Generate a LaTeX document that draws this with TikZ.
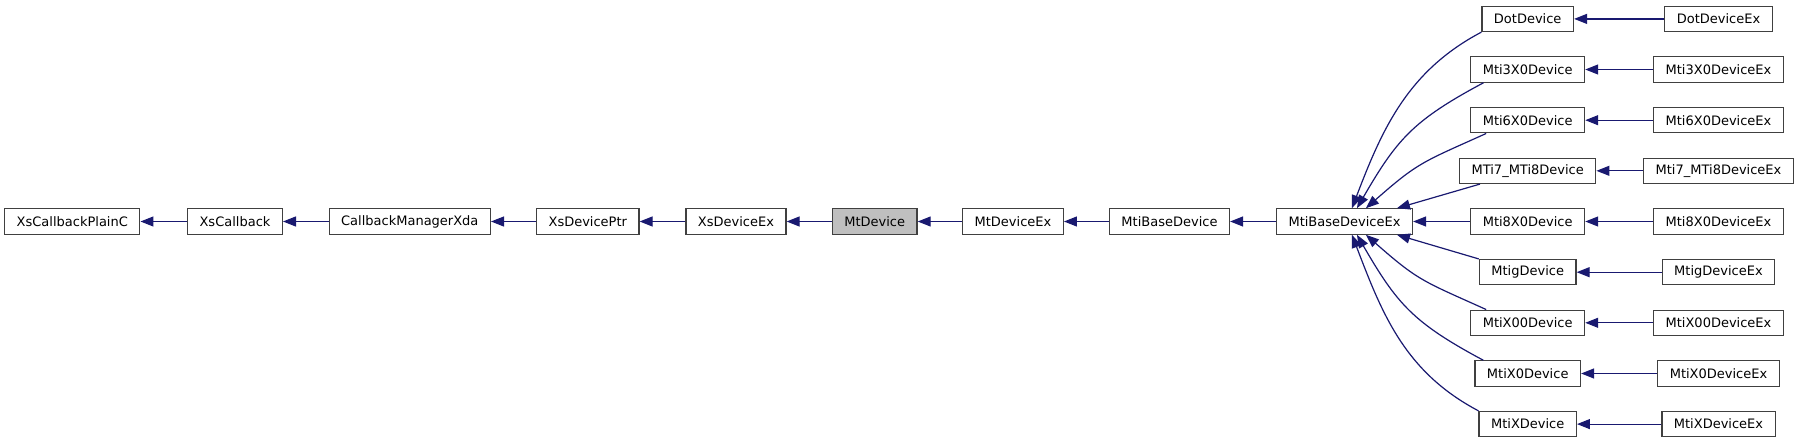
\documentclass[tikz,border=0pt]{standalone}
\usepackage{fontspec}
\setmainfont{DejaVu Sans}
\usetikzlibrary{arrows.meta,calc}
\definecolor{edgeblue}{HTML}{191970}
\definecolor{boxgray}{HTML}{404040}
\definecolor{fillgray}{HTML}{BFBFBF}
\begin{document}
\begin{tikzpicture}[x=0.75pt,y=-0.75pt,
  cls/.style={draw=boxgray, line width=0.9pt, fill=white, inner xsep=9pt, inner ysep=0pt,
    minimum height=19pt, font=\fontsize{9.75}{11}\selectfont, anchor=center},
  cur/.style={cls, fill=fillgray},
  inh/.style={draw=edgeblue, line width=0.9pt, -{Triangle[length=9.75pt,width=7.5pt]}}]
\useasboundingbox (0,0) rectangle (1799,443);
% main row
\node[cls] (xcpc) at (72.3,221.5) {XsCallbackPlainC};
\node[cls] (xcb)  at (235,221.5) {XsCallback};
\node[cls] (cmx)  at (409.8,221.5) {CallbackManagerXda};
\node[cls] (xdp)  at (587.8,221.5) {XsDevicePtr};
\node[cls] (xdx)  at (736,221.5) {XsDeviceEx};
\node[cur] (mtd)  at (874.7,221.5) {MtDevice};
\node[cls] (mtdx) at (1013,221.5) {MtDeviceEx};
\node[cls] (mbd)  at (1169.5,221.5) {MtiBaseDevice};
\node[cls] (mbx)  at (1344.5,221.5) {MtiBaseDeviceEx};
% column 2
\node[cls] (dot)  at (1527.7,18.9) {DotDevice};
\node[cls] (m3)   at (1527.7,69.5) {Mti3X0Device};
\node[cls] (m6)   at (1527.7,120.2) {Mti6X0Device};
\node[cls] (m7)   at (1527.7,170.8) {MTi7\_MTi8Device};
\node[cls] (m8)   at (1527.7,221.5) {Mti8X0Device};
\node[cls] (mg)   at (1527.7,272.2) {MtigDevice};
\node[cls] (mx00) at (1527.7,322.8) {MtiX00Device};
\node[cls] (mx0)  at (1527.7,373.5) {MtiX0Device};
\node[cls] (mx)   at (1527.7,424.1) {MtiXDevice};
% column 3
\node[cls] (dotx)  at (1718.5,18.9) {DotDeviceEx};
\node[cls] (m3x)   at (1718.5,69.5) {Mti3X0DeviceEx};
\node[cls] (m6x)   at (1718.5,120.2) {Mti6X0DeviceEx};
\node[cls] (m7x)   at (1718.5,170.8) {Mti7\_MTi8DeviceEx};
\node[cls] (m8x)   at (1718.5,221.5) {Mti8X0DeviceEx};
\node[cls] (mgx)   at (1718.5,272.2) {MtigDeviceEx};
\node[cls] (mx00x) at (1718.5,322.8) {MtiX00DeviceEx};
\node[cls] (mx0x)  at (1718.5,373.5) {MtiX0DeviceEx};
\node[cls] (mxx)   at (1718.5,424.1) {MtiXDeviceEx};
% main row edges
\draw[inh] (xcb.west) -- (xcpc.east);
\draw[inh] (cmx.west) -- (xcb.east);
\draw[inh] (xdp.west) -- (cmx.east);
\draw[inh] (xdx.west) -- (xdp.east);
\draw[inh] (mtd.west) -- (xdx.east);
\draw[inh] (mtdx.west) -- (mtd.east);
\draw[inh] (mbd.west) -- (mtdx.east);
\draw[inh] (mbx.west) -- (mbd.east);
% column 3 -> column 2
\draw[inh] (dotx.west) -- (dot.east);
\draw[inh] (m3x.west) -- (m3.east);
\draw[inh] (m6x.west) -- (m6.east);
\draw[inh] (m7x.west) -- (m7.east);
\draw[inh] (m8x.west) -- (m8.east);
\draw[inh] (mgx.west) -- (mg.east);
\draw[inh] (mx00x.west) -- (mx00.east);
\draw[inh] (mx0x.west) -- (mx0.east);
\draw[inh] (mxx.west) -- (mx.east);
% column 2 -> MtiBaseDeviceEx
\draw[inh] (dot.south west) .. controls +(-74,39) and +(30,-78.5) .. ($(mbx.north west)+(76,0)$);
\draw[inh] ($(m3.south west)+(13.3,0)$) .. controls +(-70.4,37.6) and +(40,-69) .. ($(mbx.north west)+(81,0)$);
\draw[inh] ($(m6.south west)+(16,0)$) .. controls +(-63.7,28.7) and +(52.5,-46.2) .. ($(mbx.north west)+(90,0)$);
\draw[inh] ($(m7.south west)+(21,0)$) -- ($(mbx.north west)+(121,0)$);
\draw[inh] (m8.west) -- (mbx.east);
\draw[inh] (mg.north west) -- ($(mbx.south west)+(121,0)$);
\draw[inh] ($(mx00.north west)+(16,0)$) .. controls +(-63.7,-28.7) and +(52.5,46.2) .. ($(mbx.south west)+(90,0)$);
\draw[inh] ($(mx0.north west)+(9,0)$) .. controls +(-70.4,-37.6) and +(40,69) .. ($(mbx.south west)+(81,0)$);
\draw[inh] (mx.north west) .. controls +(-74,-39) and +(30,78.5) .. ($(mbx.south west)+(76,0)$);
\end{tikzpicture}
\end{document}
